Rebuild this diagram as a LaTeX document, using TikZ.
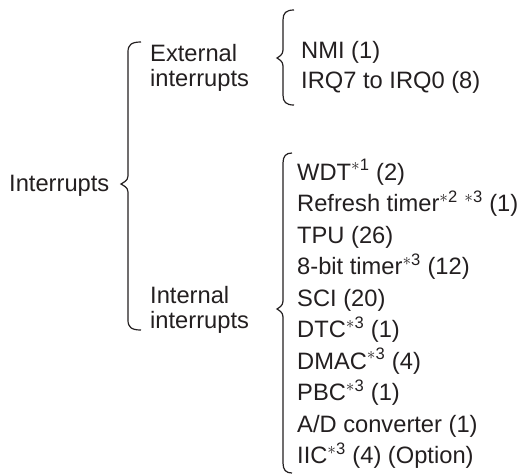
\documentclass[tikz,border=0pt]{standalone}
\usepackage{fontspec}
\setmainfont{Liberation Sans}
\definecolor{ink}{HTML}{231F20}
\newcommand\fnote[1]{\textsuperscript{$\ast$#1}}
\newcommand\drawbrace[6]{% x, top, mid, bottom, tipx, endx
  \draw[bracestyle] (#6,#2) .. controls ({#1+3},#2) and (#1,{#2+3}) .. (#1,{#2+10})
    -- (#1,{#3-8}) .. controls (#1,{#3-3}) and ({#5+2},{#3-1.5}) .. (#5,#3)
    .. controls ({#5+2},{#3+1.5}) and (#1,{#3+3}) .. (#1,{#3+8})
    -- (#1,{#4-10}) .. controls (#1,{#4-3}) and ({#1+3},#4) .. (#6,#4);}
\begin{document}
\begin{tikzpicture}[x=1pt,y=-1pt,
  lbl/.style={anchor=base west, inner sep=0pt, text=ink, font=\fontsize{23.7}{28}\selectfont},
  bracestyle/.style={draw=ink, line width=1.2pt}]
\useasboundingbox (0,0) rectangle (518,475);
\node[lbl] (root) at (9,191) {Interrupts};
\node[lbl] (ext1) at (150,61) {External};
\node[lbl] (ext2) at (150,86) {interrupts};
\node[lbl] (int1) at (150,303) {Internal};
\node[lbl] (int2) at (150,328) {interrupts};
\node[lbl] (nmi) at (301,58) {NMI (1)};
\node[lbl] (irq) at (301,88) {IRQ7 to IRQ0 (8)};
\node[lbl] (wdt) at (297,180) {WDT\fnote{1} (2)};
\node[lbl] (ref) at (297,211.5) {Refresh timer\fnote{2} \fnote{3} (1)};
\node[lbl] (tpu) at (297,243) {TPU (26)};
\node[lbl] (tmr) at (297,274.5) {8-bit timer\fnote{3} (12)};
\node[lbl] (sci) at (297,306) {SCI (20)};
\node[lbl] (dtc) at (297,337.5) {DTC\fnote{3} (1)};
\node[lbl] (dmac) at (297,369) {DMAC\fnote{3} (4)};
\node[lbl] (pbc) at (297,400.5) {PBC\fnote{3} (1)};
\node[lbl] (adc) at (297,432) {A/D converter (1)};
\node[lbl] (iic) at (297,463.5) {IIC\fnote{3} (4) (Option)};
\drawbrace{128}{42}{184}{330}{121}{141}
\drawbrace{283}{10}{58}{105}{277}{294}
\drawbrace{283}{153}{309}{473}{277}{292}
\end{tikzpicture}
\end{document}
